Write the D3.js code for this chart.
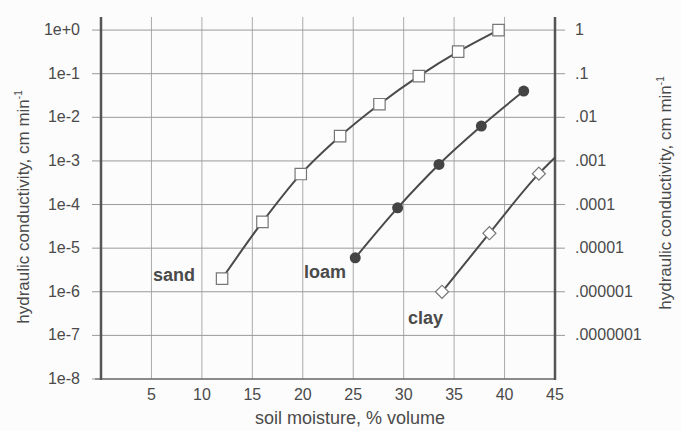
<!DOCTYPE html>
<html>
<head>
<meta charset="utf-8">
<script src="https://cdn.jsdelivr.net/npm/d3@7"></script>
<style>
	body { margin: 0; background: #fcfcfc; }
	text { font-family: "Liberation Sans", Arial, sans-serif; fill: #4a4a4a; }
</style>
</head>
<body>
<div id="chart"></div>
<script>
// soil moisture (% volume) vs hydraulic conductivity (cm/min)
let sandMoisture = [12, 16, 19.8, 23.7, 27.6, 31.5, 35.4, 39.4];
let sandK = [2e-6, 4e-5, 5e-4, 3.7e-3, 2e-2, 8.8e-2, 0.32, 1.0];

let loamMoisture = [25.2, 29.4, 33.5, 37.7, 41.9];
let loamK = [6e-6, 8.4e-5, 8.3e-4, 6.3e-3, 4e-2];

let clayMoisture = [33.8, 38.5, 43.4];
let clayK = [1e-6, 2.2e-5, 5.1e-4];
// clay line runs on to the right axis
let clayLineEnd = [45, 1.2e-3];

let xTicks = [5, 10, 15, 20, 25, 30, 35, 40, 45];
let yTicks = [1, 1e-1, 1e-2, 1e-3, 1e-4, 1e-5, 1e-6, 1e-7, 1e-8];
let leftLabels = ['1e+0', '1e-1', '1e-2', '1e-3', '1e-4', '1e-5', '1e-6', '1e-7', '1e-8'];
let rightLabels = ['1', '.1', '.01', '.001', '.0001', '.00001', '.000001', '.0000001', ''];

let width = 681, height = 431;
let plotLeft = 101, plotRight = 555, plotTop = 17, plotBottom = 379;

let svg = d3.select('#chart').append('svg')
	.attr('width', width)
	.attr('height', height);

let x = d3.scaleLinear()
	.domain([0, 45])
	.range([plotLeft, plotRight]);

let y = d3.scaleLog()
	.domain([1e-8, Math.pow(10, 0.3)])
	.range([plotBottom, plotTop]);

// grid
svg.append('g')
	.selectAll('line')
	.data(xTicks.slice(0, -1))
	.enter()
	.append('line')
	.attr('x1', d => x(d))
	.attr('x2', d => x(d))
	.attr('y1', plotTop)
	.attr('y2', plotBottom)
	.attr('stroke', '#aaa')
	.attr('stroke-width', 1);

svg.append('g')
	.selectAll('line')
	.data(yTicks.slice(0, -1))
	.enter()
	.append('line')
	.attr('x1', plotLeft - 9)
	.attr('x2', plotRight + 10)
	.attr('y1', d => y(d))
	.attr('y2', d => y(d))
	.attr('stroke', '#999')
	.attr('stroke-width', 1);

// bottom axis line
svg.append('line')
	.attr('x1', plotLeft - 6)
	.attr('x2', plotRight)
	.attr('y1', plotBottom)
	.attr('y2', plotBottom)
	.attr('stroke', '#666')
	.attr('stroke-width', 1.5);

// left tick at 1e-8
svg.append('line')
	.attr('x1', plotLeft - 9)
	.attr('x2', plotLeft)
	.attr('y1', y(1e-8))
	.attr('y2', y(1e-8))
	.attr('stroke', '#999');

// side axes
[plotLeft, plotRight].forEach(px => {
	svg.append('line')
		.attr('x1', px)
		.attr('x2', px)
		.attr('y1', plotTop)
		.attr('y2', plotBottom + 1)
		.attr('stroke', '#555')
		.attr('stroke-width', 2.5);
});

// tick labels
svg.append('g')
	.selectAll('text')
	.data(yTicks)
	.enter()
	.append('text')
	.attr('x', 80)
	.attr('y', d => y(d) + 5)
	.attr('text-anchor', 'end')
	.style('font-size', '16px')
	.text((d, i) => leftLabels[i]);

svg.append('g')
	.selectAll('text')
	.data(yTicks)
	.enter()
	.append('text')
	.attr('x', 575)
	.attr('y', d => y(d) + 5)
	.style('font-size', '16px')
	.text((d, i) => rightLabels[i]);

svg.append('g')
	.selectAll('text')
	.data(xTicks)
	.enter()
	.append('text')
	.attr('x', d => x(d))
	.attr('y', 400)
	.attr('text-anchor', 'middle')
	.style('font-size', '16px')
	.text(d => d);

// axis titles
svg.append('text')
	.attr('x', 350)
	.attr('y', 424)
	.attr('text-anchor', 'middle')
	.style('font-size', '18px')
	.text('soil moisture, % volume');

function yTitle(cx, cy) {
	let t = svg.append('text')
		.attr('transform', `translate(${cx}, ${cy}) rotate(-90)`)
		.attr('text-anchor', 'middle')
		.style('font-size', '17px');
	t.append('tspan').text('hydraulic conductivity, cm min');
	t.append('tspan')
		.attr('dy', -7)
		.style('font-size', '10px')
		.text('-1');
}
yTitle(29, 207);
yTitle(671, 193);

// series
let line = d3.line()
	.x(d => x(d[0]))
	.y(d => y(d[1]))
	.curve(d3.curveMonotoneX);

let sand = sandMoisture.map((m, i) => [m, sandK[i]]);
let loam = loamMoisture.map((m, i) => [m, loamK[i]]);
let clay = clayMoisture.map((m, i) => [m, clayK[i]]);

[sand, loam, clay.concat([clayLineEnd])].forEach(s => {
	svg.append('path')
		.attr('d', line(s))
		.attr('fill', 'none')
		.attr('stroke', '#4a4a4a')
		.attr('stroke-width', 2);
});

svg.append('g')
	.selectAll('path')
	.data(sand)
	.enter()
	.append('path')
	.attr('transform', d => `translate(${x(d[0])}, ${y(d[1])})`)
	.attr('d', d3.symbol(d3.symbolSquare, 130))
	.attr('fill', '#fff')
	.attr('stroke', '#777')
	.attr('stroke-width', 1.2);

svg.append('g')
	.selectAll('circle')
	.data(loam)
	.enter()
	.append('circle')
	.attr('cx', d => x(d[0]))
	.attr('cy', d => y(d[1]))
	.attr('r', 5.5)
	.attr('fill', '#444');

svg.append('g')
	.selectAll('path')
	.data(clay)
	.enter()
	.append('path')
	.attr('transform', d => `translate(${x(d[0])}, ${y(d[1])}) rotate(45)`)
	.attr('d', d3.symbol(d3.symbolSquare, 85))
	.attr('fill', '#fff')
	.attr('stroke', '#777')
	.attr('stroke-width', 1.2);

// soil labels
let soilLabels = [
	{name: 'sand', x: 153, y: 281},
	{name: 'loam', x: 304, y: 278},
	{name: 'clay', x: 408, y: 324}
];

svg.append('g')
	.selectAll('text')
	.data(soilLabels)
	.enter()
	.append('text')
	.attr('x', d => d.x)
	.attr('y', d => d.y)
	.style('font-size', '18px')
	.style('font-weight', 'bold')
	.text(d => d.name);
</script>
</body>
</html>
